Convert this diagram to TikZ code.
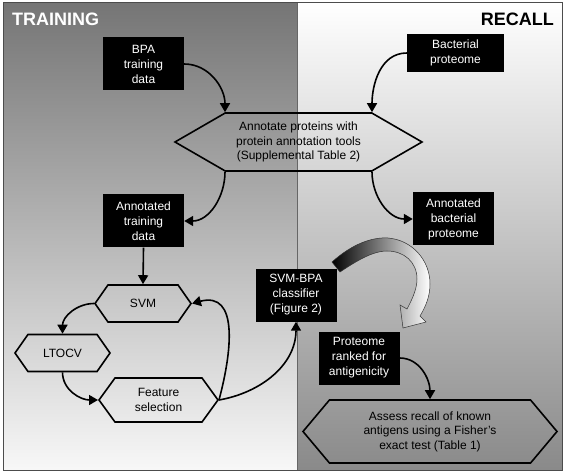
\documentclass[tikz,border=0pt]{standalone}
\usepackage{fontspec}
\setmainfont{Liberation Sans}
\usetikzlibrary{arrows.meta,shapes.symbols}
\definecolor{lefttop}{gray}{0.46}
\definecolor{leftbottom}{gray}{0.97}
\definecolor{rightbottom}{gray}{0.54}
\begin{document}
\begin{tikzpicture}[x=1pt,y=1pt,
  box/.style={fill=black,text=white,align=center,minimum width=81pt,minimum height=53pt,inner sep=2pt,font=\fontsize{12}{15}\selectfont},
  hexa/.style={draw,line width=1.6pt,shape=signal,signal to=west and east,align=center,inner sep=2pt,font=\fontsize{12}{14.5}\selectfont},
  flow/.style={line width=1.6pt,-{Triangle[length=9pt,width=10pt]}}]
\useasboundingbox (0,0) rectangle (565,-473);
\shade[top color=lefttop,bottom color=leftbottom] (3,-3) rectangle (297,-470);
\shade[top color=white,bottom color=rightbottom] (297,-3) rectangle (562,-470);
\draw[black!70,line width=1pt] (3,-3) rectangle (562,-470);
\draw[black!60,line width=0.8pt] (297,-3) -- (297,-470);
\node[anchor=base west,inner sep=0pt,text=white,font=\bfseries\fontsize{18}{18}\selectfont] (train) at (12,-26) {TRAINING};
\node[anchor=base east,inner sep=0pt,font=\bfseries\fontsize{18}{18}\selectfont] (recall) at (554,-26) {RECALL};

\node[box] (bpa) at (143.5,-64) {BPA\\training\\data};
\node[box,minimum width=97pt,minimum height=38pt] (bact) at (455.5,-53) {Bacterial\\proteome};
\node[hexa,minimum width=247pt,minimum height=58pt,signal pointer angle=60] (annot) at (298.5,-142) {Annotate proteins with\\protein annotation tools\\(Supplemental Table 2)};
\node[box] (atd) at (143.5,-221) {Annotated\\training\\data};
\node[box] (abp) at (453.5,-219) {Annotated\\bacterial\\proteome};
\node[hexa,minimum width=96pt,minimum height=37pt,signal pointer angle=110] (svm) at (143,-303.5) {SVM};
\node[hexa,minimum width=95pt,minimum height=37pt,signal pointer angle=110] (ltocv) at (62.5,-353) {LTOCV};
\node[hexa,minimum width=119pt,minimum height=44pt,signal pointer angle=108] (feat) at (158.5,-400) {Feature\\selection};
\node[box] (clf) at (296,-295) {SVM-BPA\\classifier\\(Figure 2)};
\node[box] (rank) at (359,-358) {Proteome\\ranked for\\antigenicity};
\node[hexa,minimum width=254pt,minimum height=63pt,signal pointer angle=100] (assess) at (430,-431.5) {Assess recall of known\\antigens using a Fisher's\\exact test (Table 1)};

\draw[flow] (bpa.east) to[out=0,in=90] ([xshift=-73.5pt]annot.north);
\draw[flow] (bact.west) to[out=180,in=90] ([xshift=73.5pt]annot.north);
\draw[flow] ([xshift=-73.5pt]annot.south) to[out=-90,in=0] (atd.east);
\draw[flow] ([xshift=73.5pt]annot.south) to[out=-90,in=180] (abp.west);
\draw[flow] (atd.south) -- (svm.north);
\draw[flow] (svm.west) to[out=180,in=90] (ltocv.north);
\draw[flow] (ltocv.south) to[out=-90,in=180] (feat.west);
\draw[flow] (feat.east) to[out=75,in=15,looseness=1.25] (svm.east);
\draw[flow] (feat.east) to[out=10,in=-90] (clf.south);
\draw[flow] (rank.east) to[out=0,in=90] (assess.north);

\shadedraw[left color=black,middle color=black!65,right color=white,draw=black!80,line width=0.5pt]
  (332,-262) .. controls (352,-244) and (372,-237) .. (388,-238)
  .. controls (412,-240) and (430,-260) .. (430,-284)
  .. controls (430,-296) and (426,-306) .. (420,-316)
  -- (426,-322) -- (403,-328) -- (400,-305) -- (407,-309)
  .. controls (414,-296) and (417,-287) .. (417,-279)
  .. controls (417,-262) and (404,-251) .. (387,-251)
  .. controls (372,-251) and (355,-262) .. (340,-272) -- cycle;
\end{tikzpicture}
\end{document}
